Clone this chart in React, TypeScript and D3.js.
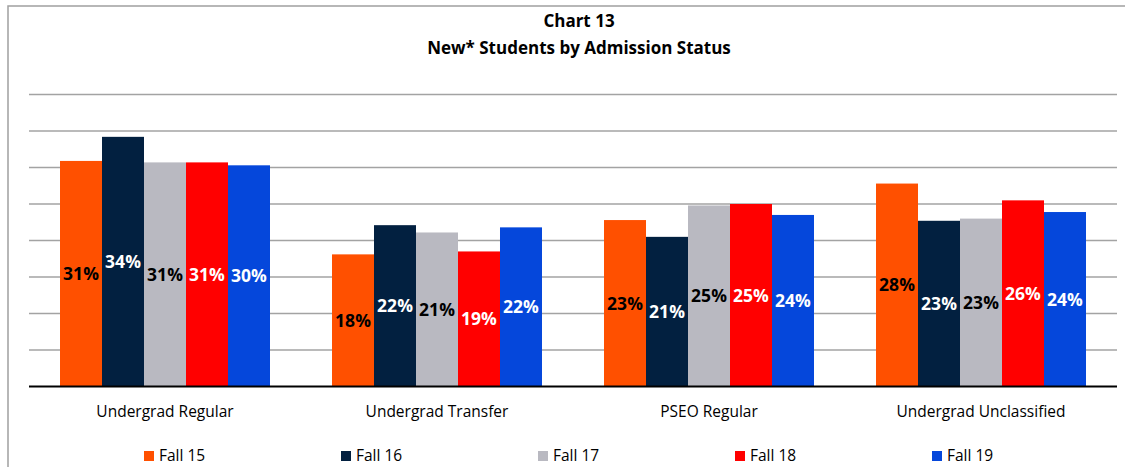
import React from "react";
import * as d3 from "d3";

const categories = ["Undergrad Regular", "Undergrad Transfer", "PSEO Regular", "Undergrad Unclassified"];
const seriesNames = ["Fall 15", "Fall 16", "Fall 17", "Fall 18", "Fall 19"];
const fall15 = [30.9, 18.1, 22.8, 27.8];
const fall16 = [34.2, 22.1, 20.5, 22.7];
const fall17 = [30.7, 21.1, 24.8, 23.0];
const fall18 = [30.7, 18.5, 25.0, 25.5];
const fall19 = [30.3, 21.8, 23.5, 23.9];
const seriesValues = [fall15, fall16, fall17, fall18, fall19];
const colors = ["#FF5000", "#022040", "#B9B9C1", "#FF0000", "#0547DB"];
const labelColors = ["#000000", "#FFFFFF", "#000000", "#FFFFFF", "#FFFFFF"];
const yTicks = [0, 5, 10, 15, 20, 25, 30, 35, 40];
const titleLines = ["Chart 13", "New* Students by Admission Status"];

const W = 1125;
const H = 467;
const plotLeft = 29;
const plotRight = 1117;
const plotTop = 94.5;
const plotBottom = 386.5;

export default function App() {
  const y = d3.scaleLinear().domain([0, 40]).range([plotBottom, plotTop]);
  const x0 = d3.scaleBand<string>().domain(categories).range([plotLeft, plotRight]).padding(0);
  const bw = x0.bandwidth();
  const groupW = bw * 0.772;
  const x1 = d3
    .scaleBand<string>()
    .domain(seriesNames)
    .range([(bw - groupW) / 2, (bw + groupW) / 2])
    .padding(0);
  const font = "'Open Sans', sans-serif";
  const legendX = d3.scalePoint<string>().domain(seriesNames).range([144, 932]);

  return (
    <div style={{ position: "absolute", left: 0, top: 0 }}>
      <svg width={W} height={H} style={{ display: "block", background: "#fff" }}>
        <rect x={8} y={6} width={1300} height={600} fill="#fff" stroke="#A0A0A0" strokeWidth={1.5} />
        {titleLines.map((t, i) => (
          <text
            key={t}
            x={579}
            y={27 + i * 26.5}
            textAnchor="middle"
            fontFamily={font}
            fontWeight={700}
            fontSize={17}
            fill="#000"
          >
            {t}
          </text>
        ))}
        {yTicks.slice(1).map((t) => (
          <line key={t} x1={plotLeft} x2={plotRight} y1={y(t)} y2={y(t)} stroke="#A3A3A3" strokeWidth={1.5} />
        ))}
        {categories.map((c, ci) => (
          <g key={c} transform={`translate(${x0(c)},0)`}>
            {seriesNames.map((s, si) => {
              const v = seriesValues[si][ci];
              const bx = x1(s) as number;
              const top = y(v);
              return (
                <g key={s}>
                  <rect x={bx} y={top} width={x1.bandwidth()} height={plotBottom - top} fill={colors[si]} />
                  <text
                    x={bx + x1.bandwidth() / 2}
                    y={(top + plotBottom) / 2}
                    dy="0.36em"
                    textAnchor="middle"
                    fontFamily={font}
                    fontWeight={700}
                    fontSize={17.5}
                    fill={labelColors[si]}
                  >
                    {Math.round(v)}%
                  </text>
                </g>
              );
            })}
            <text
              x={bw / 2}
              y={416.5}
              textAnchor="middle"
              fontFamily={font}
              fontSize={15.5}
              fill="#000"
            >
              {c}
            </text>
          </g>
        ))}
        <line x1={plotLeft} x2={plotRight} y1={plotBottom} y2={plotBottom} stroke="#000" strokeWidth={2.2} />
        {seriesNames.map((s, si) => (
          <g key={s} transform={`translate(${legendX(s)},0)`}>
            <rect x={0} y={451} width={10} height={10} fill={colors[si]} />
            <text x={15} y={461} fontFamily={font} fontSize={15.5} fill="#000">
              {s}
            </text>
          </g>
        ))}
      </svg>
    </div>
  );
}
